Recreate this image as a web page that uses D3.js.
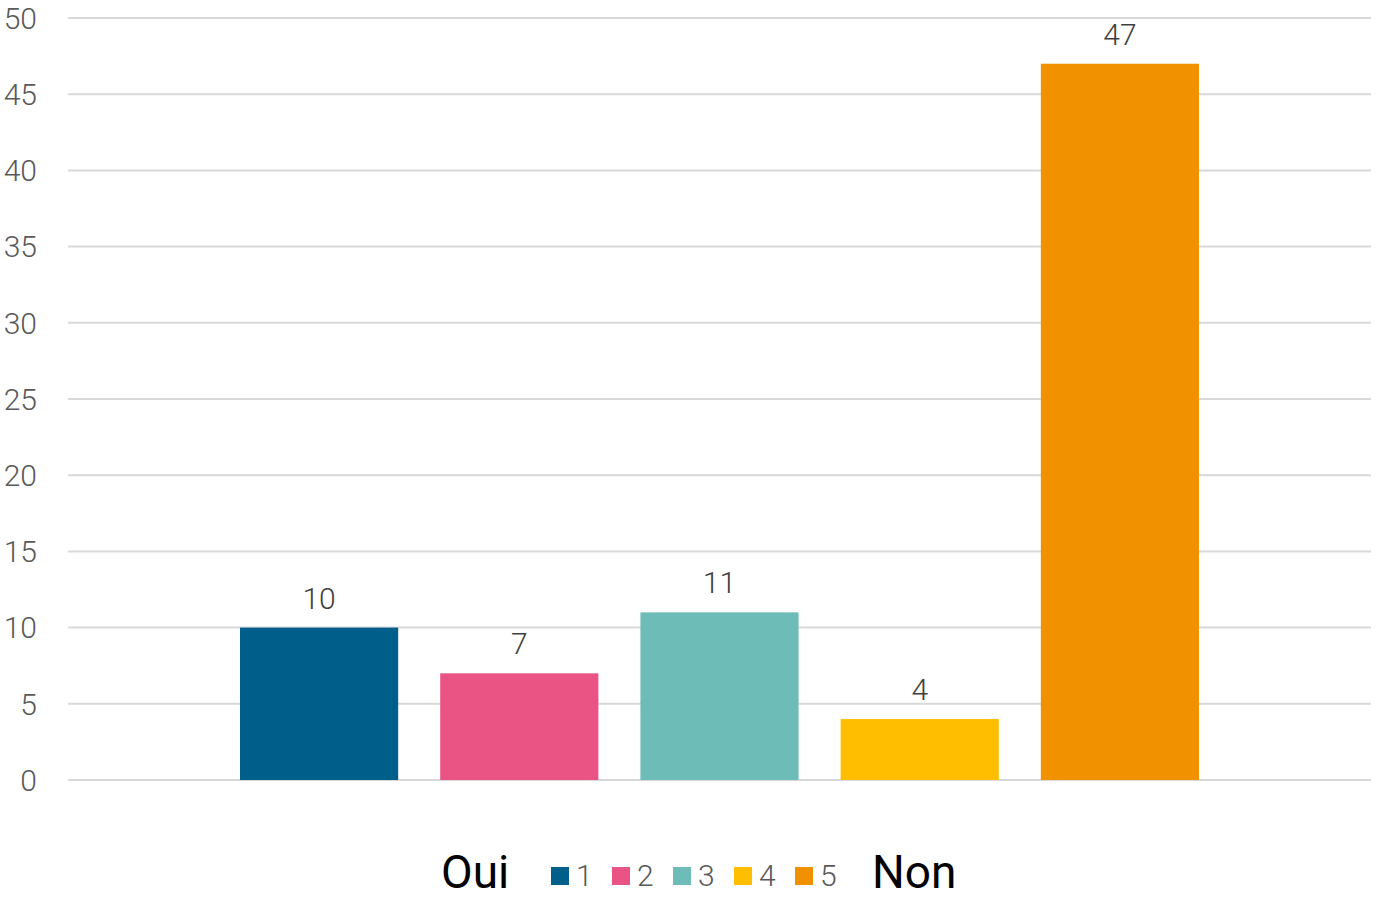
<!DOCTYPE html>
<html><head><meta charset="utf-8">
<script src="https://cdn.jsdelivr.net/npm/d3@7"></script>
<style>body{margin:0;background:#fff;} svg{display:block;}</style>
</head><body>
<svg id="c" width="1376" height="900"></svg>
<script>
const series = ["1","2","3","4","5"];
const values = [10, 7, 11, 4, 47];
const colors = ["#005f8a","#ea5484","#6dbcb7","#ffbf00","#f29100"];
const yTicks = [0,5,10,15,20,25,30,35,40,45,50];
const legendLeft = "Oui", legendRight = "Non";

const svg = d3.select("#c");
const font = "Roboto, 'Noto Sans', sans-serif";
const y = d3.scaleLinear().domain([0,50]).range([780,18]);
const x = d3.scaleBand().domain(series).range([240,1199]).paddingInner(0.21).paddingOuter(0);

svg.append("g").selectAll("line").data(yTicks).join("line")
  .attr("x1",68).attr("x2",1371).attr("y1",d=>y(d)).attr("y2",d=>y(d))
  .attr("stroke","#d9d9d9").attr("stroke-width",2);
svg.append("g").selectAll("text").data(yTicks).join("text")
  .attr("x",37).attr("y",d=>y(d)).attr("dy","0.36em").attr("text-anchor","end")
  .attr("font-family",font).attr("font-weight",300).attr("font-size",30).attr("fill","#595959")
  .text(d=>d);

svg.append("g").selectAll("rect").data(values).join("rect")
  .attr("x",(d,i)=>x(series[i])).attr("width",x.bandwidth())
  .attr("y",d=>y(d)).attr("height",d=>y(0)-y(d)).attr("fill",(d,i)=>colors[i]);
svg.append("g").selectAll("text").data(values).join("text")
  .attr("x",(d,i)=>x(series[i])+x.bandwidth()/2).attr("y",d=>y(d)-19)
  .attr("text-anchor","middle").attr("font-family",font).attr("font-weight",300)
  .attr("font-size",30).attr("fill","#404040").text(d=>d);

// legend
const lg = svg.append("g");
lg.append("text").attr("x",441).attr("y",888).attr("font-family",font).attr("font-size",46)
  .attr("fill","#000").text(legendLeft);
series.forEach((s,i)=>{
  const lx = 551 + i*61;
  lg.append("rect").attr("x",lx).attr("y",867).attr("width",18).attr("height",18).attr("fill",colors[i]);
  lg.append("text").attr("x",lx+25).attr("y",886).attr("font-family",font).attr("font-weight",300)
    .attr("font-size",30).attr("fill","#595959").text(s);
});
lg.append("text").attr("x",872).attr("y",888).attr("font-family",font).attr("font-size",46)
  .attr("fill","#000").text(legendRight);
</script>
</body></html>
